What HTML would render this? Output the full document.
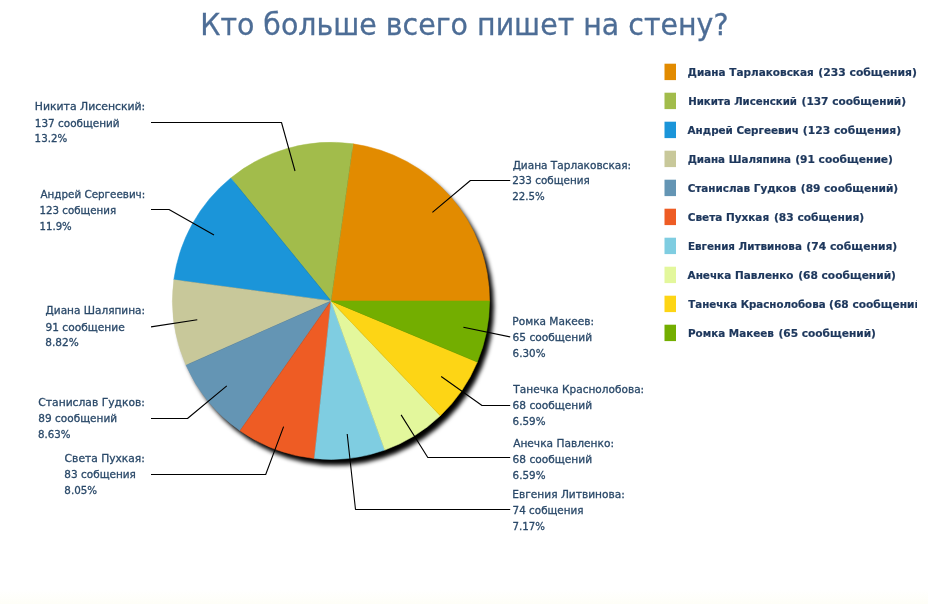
<!DOCTYPE html>
<html lang="ru"><head><meta charset="utf-8"><title>Кто больше всего пишет на стену?</title>
<style>
html,body{margin:0;padding:0;background:#fff;}
body{width:928px;height:604px;overflow:hidden;}
svg{display:block;font-family:"DejaVu Sans", "Liberation Sans", sans-serif;}
.t{font-size:30.6px;fill:#4D6D96;stroke:#4D6D96;stroke-width:0.3;}
.l{font-size:10.6px;fill:#2A4969;stroke:#2A4969;stroke-width:0.3;}
.g{font-size:10.6px;font-weight:bold;fill:#1D375C;stroke:#1D375C;stroke-width:0.2;}
.ln{fill:none;stroke:#000;stroke-width:1.1;stroke-linejoin:round;}
</style></head><body>
<svg width="928" height="604" viewBox="0 0 928 604">
<defs>
<filter id="sh" x="-10%" y="-10%" width="125%" height="125%"><feGaussianBlur stdDeviation="2.0"/></filter>
<clipPath id="lc"><rect x="650" y="50" width="267" height="300"/></clipPath>
<linearGradient id="bg" x1="0" y1="0" x2="0" y2="1"><stop offset="0" stop-color="#ffffff"/><stop offset="1" stop-color="#FEFEF7"/></linearGradient>
</defs>
<rect x="0" y="0" width="928" height="604" fill="#fff"/>
<rect x="0" y="589" width="928" height="15" fill="url(#bg)"/>
<text class="t" x="200.2" y="34.8" textLength="528.3" lengthAdjust="spacingAndGlyphs">Кто больше всего пишет на стену?</text>
<circle cx="335.30" cy="306.70" r="158.6" fill="#000" filter="url(#sh)"/>
<path d="M331.0,300.9 L489.60,300.90 A158.6,158.6 0 0 0 353.05,143.84 Z" fill="#E28B00" stroke="#E28B00" stroke-width="0.5"/>
<path d="M331.0,300.9 L353.05,143.84 A158.6,158.6 0 0 0 230.77,177.98 Z" fill="#A2BC4B" stroke="#A2BC4B" stroke-width="0.5"/>
<path d="M331.0,300.9 L230.77,177.98 A158.6,158.6 0 0 0 173.81,279.77 Z" fill="#1B95D9" stroke="#1B95D9" stroke-width="0.5"/>
<path d="M331.0,300.9 L173.81,279.77 A158.6,158.6 0 0 0 186.02,365.20 Z" fill="#C8C89A" stroke="#C8C89A" stroke-width="0.5"/>
<path d="M331.0,300.9 L186.02,365.20 A158.6,158.6 0 0 0 240.02,430.81 Z" fill="#6495B4" stroke="#6495B4" stroke-width="0.5"/>
<path d="M331.0,300.9 L240.02,430.81 A158.6,158.6 0 0 0 314.36,458.62 Z" fill="#EE5C24" stroke="#EE5C24" stroke-width="0.5"/>
<path d="M331.0,300.9 L314.36,458.62 A158.6,158.6 0 0 0 384.76,450.11 Z" fill="#7FCDE1" stroke="#7FCDE1" stroke-width="0.5"/>
<path d="M331.0,300.9 L384.76,450.11 A158.6,158.6 0 0 0 440.29,415.83 Z" fill="#E3F79C" stroke="#E3F79C" stroke-width="0.5"/>
<path d="M331.0,300.9 L440.29,415.83 A158.6,158.6 0 0 0 477.32,362.10 Z" fill="#FDD515" stroke="#FDD515" stroke-width="0.5"/>
<path d="M331.0,300.9 L477.32,362.10 A158.6,158.6 0 0 0 489.60,300.90 Z" fill="#73AE00" stroke="#73AE00" stroke-width="0.5"/>
<path class="ln" d="M432.4,212.4 L470.4,180.5 L510.2,180.5"/>
<text class="l" x="512.63" y="168.5" textLength="118.45" lengthAdjust="spacingAndGlyphs">Диана Тарлаковская:</text><text class="l" x="512.15" y="184.1" textLength="77.63" lengthAdjust="spacingAndGlyphs">233 собщения</text><text class="l" x="512.19" y="200.0" textLength="32.38" lengthAdjust="spacingAndGlyphs">22.5%</text>
<path class="ln" d="M151.0,122.5 L281.5,122.5 L295.0,171.0"/>
<text class="l" x="34.80" y="110.2" textLength="110.49" lengthAdjust="spacingAndGlyphs">Никита Лисенский:</text><text class="l" x="34.74" y="126.6" textLength="84.92" lengthAdjust="spacingAndGlyphs">137 сообщений</text><text class="l" x="34.60" y="142.3" textLength="32.62" lengthAdjust="spacingAndGlyphs">13.2%</text>
<path class="ln" d="M151.0,209.5 L169.0,209.5 L214.0,235.0"/>
<text class="l" x="40.54" y="198.2" textLength="104.68" lengthAdjust="spacingAndGlyphs">Андрей Сергеевич:</text><text class="l" x="39.51" y="214.2" textLength="76.56" lengthAdjust="spacingAndGlyphs">123 собщения</text><text class="l" x="39.57" y="230.3" textLength="32.15" lengthAdjust="spacingAndGlyphs">11.9%</text>
<path class="ln" d="M151.0,326.9 L197.3,319.8"/>
<text class="l" x="45.60" y="314.2" textLength="99.48" lengthAdjust="spacingAndGlyphs">Диана Шаляпина:</text><text class="l" x="45.41" y="330.5" textLength="79.32" lengthAdjust="spacingAndGlyphs">91 сообщение</text><text class="l" x="45.30" y="346.4" textLength="33.49" lengthAdjust="spacingAndGlyphs">8.82%</text>
<path class="ln" d="M151.0,418.5 L187.5,418.5 L226.8,385.8"/>
<text class="l" x="38.37" y="406.0" textLength="106.53" lengthAdjust="spacingAndGlyphs">Станислав Гудков:</text><text class="l" x="38.31" y="422.2" textLength="78.77" lengthAdjust="spacingAndGlyphs">89 сообщений</text><text class="l" x="38.05" y="438.4" textLength="32.51" lengthAdjust="spacingAndGlyphs">8.63%</text>
<path class="ln" d="M151.0,474.5 L265.7,474.5 L283.6,426.6"/>
<text class="l" x="64.63" y="461.5" textLength="80.27" lengthAdjust="spacingAndGlyphs">Света Пухкая:</text><text class="l" x="64.32" y="477.6" textLength="71.62" lengthAdjust="spacingAndGlyphs">83 собщения</text><text class="l" x="64.35" y="493.8" textLength="32.81" lengthAdjust="spacingAndGlyphs">8.05%</text>
<path class="ln" d="M347.2,434.0 L355.5,509.5 L510.2,509.5"/>
<text class="l" x="512.36" y="497.8" textLength="112.34" lengthAdjust="spacingAndGlyphs">Евгения Литвинова:</text><text class="l" x="512.59" y="514.0" textLength="70.91" lengthAdjust="spacingAndGlyphs">74 собщения</text><text class="l" x="512.60" y="530.0" textLength="32.45" lengthAdjust="spacingAndGlyphs">7.17%</text>
<path class="ln" d="M401.1,414.9 L427.8,457.5 L510.2,457.5"/>
<text class="l" x="513.14" y="446.8" textLength="100.85" lengthAdjust="spacingAndGlyphs">Анечка Павленко:</text><text class="l" x="512.55" y="462.9" textLength="79.52" lengthAdjust="spacingAndGlyphs">68 сообщений</text><text class="l" x="512.60" y="478.9" textLength="32.87" lengthAdjust="spacingAndGlyphs">6.59%</text>
<path class="ln" d="M441.2,376.5 L482.0,405.5 L510.2,405.5"/>
<text class="l" x="513.37" y="393.1" textLength="130.82" lengthAdjust="spacingAndGlyphs">Танечка Краснолобова:</text><text class="l" x="512.55" y="409.1" textLength="79.52" lengthAdjust="spacingAndGlyphs">68 сообщений</text><text class="l" x="512.60" y="425.3" textLength="32.87" lengthAdjust="spacingAndGlyphs">6.59%</text>
<path class="ln" d="M463.4,327.2 L510.2,336.9"/>
<text class="l" x="512.36" y="324.8" textLength="81.69" lengthAdjust="spacingAndGlyphs">Ромка Макеев:</text><text class="l" x="512.55" y="341.2" textLength="79.52" lengthAdjust="spacingAndGlyphs">65 сообщений</text><text class="l" x="512.60" y="357.1" textLength="32.87" lengthAdjust="spacingAndGlyphs">6.30%</text>
<g clip-path="url(#lc)">
<rect x="664.5" y="63.7" width="11.5" height="16.4" fill="#E28B00"/><text class="g" y="75.6"><tspan x="687.61" textLength="126.16" lengthAdjust="spacingAndGlyphs">Диана Тарлаковская</tspan> <tspan x="818.30" textLength="98.64" lengthAdjust="spacingAndGlyphs">(233 собщения)</tspan></text>
<rect x="664.5" y="92.7" width="11.5" height="16.4" fill="#A2BC4B"/><text class="g" y="104.6"><tspan x="688.14" textLength="108.81" lengthAdjust="spacingAndGlyphs">Никита Лисенский</tspan> <tspan x="801.58" textLength="104.52" lengthAdjust="spacingAndGlyphs">(137 сообщений)</tspan></text>
<rect x="664.5" y="121.7" width="11.5" height="16.4" fill="#1B95D9"/><text class="g" y="133.6"><tspan x="687.57" textLength="111.42" lengthAdjust="spacingAndGlyphs">Андрей Сергеевич</tspan> <tspan x="802.89" textLength="98.28" lengthAdjust="spacingAndGlyphs">(123 собщения)</tspan></text>
<rect x="664.5" y="150.7" width="11.5" height="16.4" fill="#C8C89A"/><text class="g" y="162.6"><tspan x="687.64" textLength="103.37" lengthAdjust="spacingAndGlyphs">Диана Шаляпина</tspan> <tspan x="795.16" textLength="97.80" lengthAdjust="spacingAndGlyphs">(91 сообщение)</tspan></text>
<rect x="664.5" y="179.7" width="11.5" height="16.4" fill="#6495B4"/><text class="g" y="191.6"><tspan x="687.73" textLength="108.62" lengthAdjust="spacingAndGlyphs">Станислав Гудков</tspan> <tspan x="800.85" textLength="97.30" lengthAdjust="spacingAndGlyphs">(89 сообщений)</tspan></text>
<rect x="664.5" y="208.7" width="11.5" height="16.4" fill="#EE5C24"/><text class="g" y="220.6"><tspan x="687.72" textLength="81.45" lengthAdjust="spacingAndGlyphs">Света Пухкая</tspan> <tspan x="773.91" textLength="90.32" lengthAdjust="spacingAndGlyphs">(83 собщения)</tspan></text>
<rect x="664.5" y="237.7" width="11.5" height="16.4" fill="#7FCDE1"/><text class="g" y="249.6"><tspan x="688.04" textLength="113.84" lengthAdjust="spacingAndGlyphs">Евгения Литвинова</tspan> <tspan x="806.32" textLength="90.95" lengthAdjust="spacingAndGlyphs">(74 собщения)</tspan></text>
<rect x="664.5" y="266.7" width="11.5" height="16.4" fill="#E3F79C"/><text class="g" y="278.6"><tspan x="687.56" textLength="106.00" lengthAdjust="spacingAndGlyphs">Анечка Павленко</tspan> <tspan x="798.18" textLength="97.82" lengthAdjust="spacingAndGlyphs">(68 сообщений)</tspan></text>
<rect x="664.5" y="295.7" width="11.5" height="16.4" fill="#FDD515"/><text class="g" y="307.6"><tspan x="688.27" textLength="137.29" lengthAdjust="spacingAndGlyphs">Танечка Краснолобова</tspan> <tspan x="829.11" textLength="97.67" lengthAdjust="spacingAndGlyphs">(68 сообщений)</tspan></text>
<rect x="664.5" y="324.7" width="11.5" height="16.4" fill="#73AE00"/><text class="g" y="336.6"><tspan x="688.02" textLength="85.79" lengthAdjust="spacingAndGlyphs">Ромка Макеев</tspan> <tspan x="778.52" textLength="97.41" lengthAdjust="spacingAndGlyphs">(65 сообщений)</tspan></text>
</g>
</svg>
</body></html>
